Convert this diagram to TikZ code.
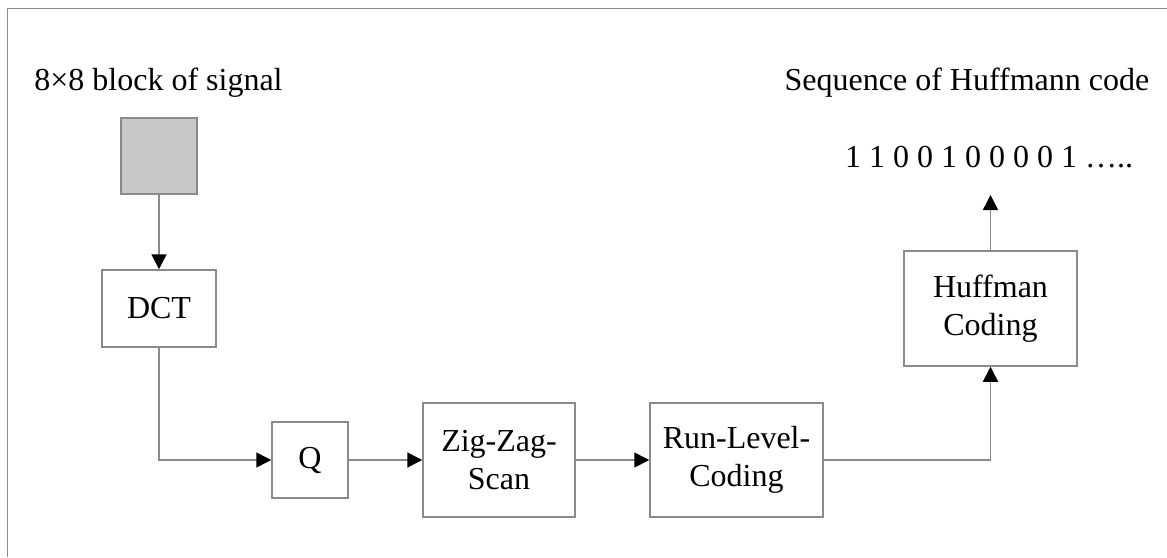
\documentclass[tikz,border=0pt]{standalone}
\usepackage{fontspec}
\setmainfont{Liberation Serif}
\usetikzlibrary{arrows.meta}
\definecolor{linegray}{HTML}{8A8A8A}
\definecolor{blockfill}{HTML}{C8C8C8}
\begin{document}
\begin{tikzpicture}[x=1pt, y=-1pt,
  every node/.style={font=\fontsize{32}{38}\selectfont},
  frame/.style={draw=linegray, line width=1.8pt},
  wire/.style={draw=linegray, line width=1.5pt,
    -{Triangle[length=15pt, width=15pt, black]}},
  block/.style={draw=linegray, line width=1.5pt, fill=white,
    inner sep=0pt, align=center},
  label/.style={anchor=base, inner sep=0pt}
]
\useasboundingbox (0,0) rectangle (1167,557);

% open frame: top and left edges only
\draw[frame] (7.5,557) -- (7.5,8.5) -- (1167,8.5);

% captions
\node[label] (inlabel) at (158.5,90) {8×8 block of signal};
\node[label] (outlabel) at (967,90) {Sequence of Huffmann code};
\node[label] (bits) at (989,167) {1 1 0 0 1 0 0 0 0 1 …..};

% processing blocks
\node[block, fill=blockfill, minimum width=76pt, minimum height=76pt] (sig) at (159,156) {};
\node[block, minimum width=114pt, minimum height=77pt] (dct) at (159,308.5) {DCT};
\node[block, minimum width=76pt, minimum height=76pt] (q) at (310,460) {Q};
\node[block, minimum width=152pt, minimum height=114pt] (zz) at (499,460) {Zig-Zag-\\Scan};
\node[block, minimum width=173pt, minimum height=114pt] (rl) at (736.5,460) {Run-Level-\\Coding};
\node[block, minimum width=173pt, minimum height=115pt] (huff) at (990.5,308.5) {Huffman\\Coding};
\coordinate (out) at (990.5,195);

% signal flow
\draw[wire] (sig) -- (dct);
\draw[wire] (dct.south) |- (q.west);
\draw[wire] (q) -- (zz);
\draw[wire] (zz) -- (rl);
\draw[wire] (rl.east) -| (huff.south);
\draw[wire] (huff.north) -- (out);
\end{tikzpicture}
\end{document}
